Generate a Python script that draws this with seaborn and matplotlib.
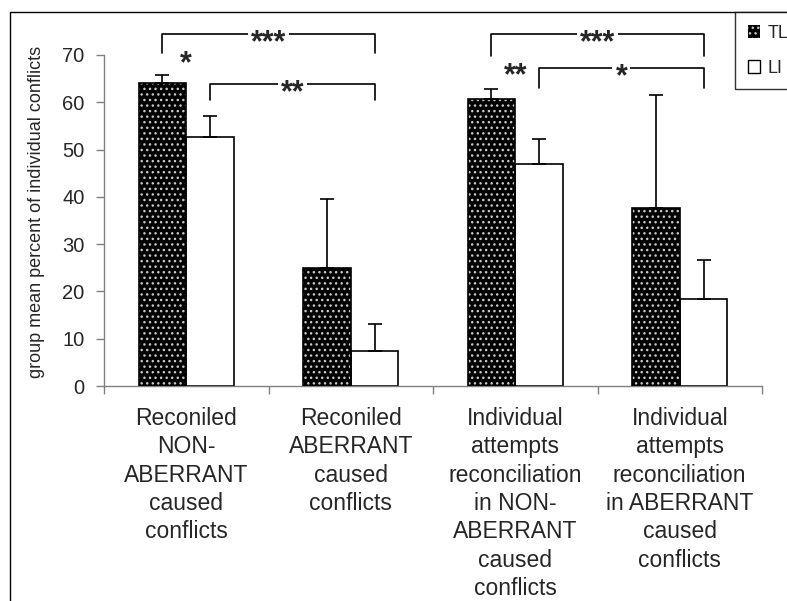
import numpy as np
import pandas as pd
import matplotlib
matplotlib.use('Agg')
import matplotlib.pyplot as plt
from matplotlib.patches import Rectangle, Patch
import seaborn as sns

# Data
conditions = [
    'Reconiled\nNON-\nABERRANT\ncaused\nconflicts',
    'Reconiled\nABERRANT\ncaused\nconflicts',
    'Individual\nattempts\nreconciliation\nin NON-\nABERRANT\ncaused\nconflicts',
    'Individual\nattempts\nreconciliation\nin ABERRANT\ncaused\nconflicts',
]
groups = ['TL', 'LI']
tl_mean = [64.0, 24.9, 60.7, 37.6]
li_mean = [52.6, 7.5, 46.9, 18.5]
tl_err = [1.7, 14.6, 2.2, 23.9]
li_err = [4.6, 5.6, 5.4, 8.1]

# significance brackets: (category, group) start, (category, group) end, top, drop, label
brackets = [
    ((0, 'TL'), (1, 'LI'), 74.4, 70.4, '***'),
    ((0, 'LI'), (1, 'LI'), 63.8, 60.5, '**'),
    ((2, 'TL'), (3, 'LI'), 74.4, 69.8, '***'),
    ((2, 'LI'), (3, 'LI'), 67.2, 63.0, '*'),
]
# TL vs LI within one condition
pair_marks = [(0, 70.0, '*'), (2, 67.4, '**')]

df = pd.DataFrame({
    'condition': conditions * 2,
    'group': ['TL'] * 4 + ['LI'] * 4,
    'percent': tl_mean + li_mean,
})
errs = {'TL': tl_err, 'LI': li_err}

sns.set_style('ticks')
plt.rcParams['font.family'] = ['Liberation Sans', 'DejaVu Sans']
plt.rcParams['hatch.linewidth'] = 1.0

fig = plt.figure(figsize=(7.87, 6.01), dpi=100)
ax = fig.add_axes([104 / 787, 1 - 386 / 601, 658 / 787, 331 / 601])

sns.barplot(data=df, x='condition', y='percent', hue='group', order=conditions,
            hue_order=groups, palette={'TL': 'black', 'LI': 'white'},
            width=0.58, edgecolor='black', linewidth=1.2, errorbar=None,
            legend=False, ax=ax)

centers = {}
for g, cont in zip(groups, ax.containers):
    xs, ys = [], []
    for i, p in enumerate(cont.patches):
        cx = p.get_x() + p.get_width() / 2
        centers[(i, g)] = cx
        xs.append(cx)
        ys.append(p.get_height())
        if g == 'TL':
            p.set_hatch('...')
            p.set_edgecolor('#c8c8c8')
            p.set_linewidth(0)
            ax.add_patch(Rectangle(p.get_xy(), p.get_width(), p.get_height(),
                                   fill=False, edgecolor='black', linewidth=1.2, zorder=3))
    ax.errorbar(xs, ys, yerr=[np.zeros(len(ys)), errs[g]], fmt='none',
                ecolor='black', elinewidth=1.2, capsize=4.7, capthick=1.2, zorder=4)

star_fs = 22
# brackets
for (a, b, top, drop, lab) in brackets:
    x0, x1 = centers[a], centers[b]
    ax.plot([x0, x0, x1, x1], [drop, top, top, drop], color='black', lw=1.2,
            clip_on=False, zorder=5)
    ax.annotate(lab, xy=((x0 + x1) / 2, top), xytext=(0, -0.57 * star_fs),
                textcoords='offset points', ha='center', va='baseline',
                fontsize=star_fs, fontweight='bold', annotation_clip=False, zorder=6,
                bbox=dict(boxstyle='square,pad=0.1', fc='white', ec='none'))
for (i, y, lab) in pair_marks:
    ax.annotate(lab, xy=(i, y), xytext=(0, -0.57 * star_fs), textcoords='offset points',
                ha='center', va='baseline', fontsize=star_fs, fontweight='bold',
                annotation_clip=False, zorder=6)

ax.set_ylim(0, 70)
ax.set_yticks(range(0, 71, 10))
ax.set_xlim(-0.5, 3.5)
ax.set_xticks(range(4))
ax.set_xticklabels(conditions, fontsize=16.5, linespacing=1.3)
ax.set_xticks(np.arange(-0.5, 4, 1), minor=True)
ax.tick_params(axis='x', which='major', length=0, pad=15)
ax.tick_params(axis='x', which='minor', length=6, width=1, color='#808080', bottom=True)
ax.tick_params(axis='y', length=6, width=1, color='#808080', labelsize=14.5, pad=8, left=True)
for s in ['top', 'right']:
    ax.spines[s].set_visible(False)
for s in ['left', 'bottom']:
    ax.spines[s].set_color('#808080')
    ax.spines[s].set_linewidth(1)

ax.set_xlabel('')
ax.set_ylabel('group mean percent of individual conflicts', fontsize=13)
ax.yaxis.set_label_coords(-0.09, 0.526)

# figure frame
fig.patches.append(Rectangle((10 / 787, -0.05), 1.1, 1 - 12 / 601 + 0.05,
                             transform=fig.transFigure, fill=False,
                             edgecolor='black', linewidth=1))

handles = [Patch(facecolor='black', edgecolor='#c8c8c8', hatch='...', linewidth=0),
           Patch(facecolor='white', edgecolor='black', linewidth=1)]
leg = fig.legend(handles, groups, loc='upper left',
                 bbox_to_anchor=(735 / 787, 1 - 12 / 601), borderaxespad=0,
                 fontsize=13, frameon=True, fancybox=False, handlelength=0.7,
                 handleheight=0.7, handletextpad=0.4, labelspacing=1.0,
                 borderpad=0.7)
leg.get_frame().set_edgecolor('black')
leg.get_frame().set_linewidth(1)

fig.savefig('out.png', dpi=100)
